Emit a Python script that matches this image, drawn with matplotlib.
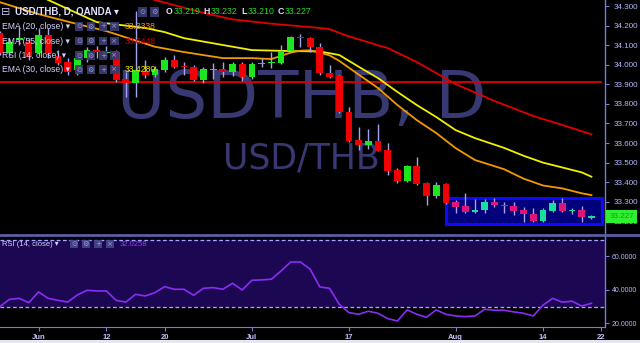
import numpy as np
import matplotlib
matplotlib.use('Agg')
import matplotlib.pyplot as plt
from matplotlib.patches import Rectangle

# ---------------- data ----------------
bar_idx = list(range(-4, 58))          # trading-day index, 0 = 1 Jun
opens = [34.162, 34.060, 34.126, 34.116, 34.060, 34.152, 34.045, 34.014, 33.973, 34.034,
         34.075, 34.060, 34.065, 33.927, 33.907, 33.963, 33.947, 33.973, 34.024, 33.993,
         33.988, 33.922, 33.973, 33.978, 33.963, 34.004, 33.937, 34.004, 34.009, 34.009,
         34.070, 34.142, 34.136, 34.090, 33.958, 33.942, 33.758, 33.615, 33.590, 33.610,
         33.564, 33.462, 33.406, 33.482, 33.396, 33.329, 33.390, 33.298, 33.278, 33.247,
         33.258, 33.298, 33.283, 33.278, 33.258, 33.237, 33.201, 33.252, 33.293, 33.252,
         33.258, 33.219]
highs = [34.172, 34.136, 34.193, 34.136, 34.188, 34.188, 34.075, 34.034, 34.065, 34.090,
         34.096, 34.096, 34.075, 33.963, 34.274, 34.024, 33.993, 34.039, 34.050, 34.014,
         33.999, 33.988, 34.009, 34.014, 34.014, 34.014, 34.014, 34.034, 34.065, 34.101,
         34.147, 34.157, 34.142, 34.111, 33.999, 33.947, 33.784, 33.682, 33.671, 33.697,
         33.600, 33.472, 33.488, 33.528, 33.401, 33.401, 33.396, 33.309, 33.344, 33.314,
         33.314, 33.319, 33.298, 33.298, 33.273, 33.268, 33.268, 33.309, 33.319, 33.268,
         33.278, 33.232]
lows = [34.050, 34.045, 34.101, 34.024, 34.045, 34.034, 33.999, 33.947, 33.947, 34.014,
        34.034, 34.034, 33.912, 33.835, 33.835, 33.932, 33.937, 33.963, 33.983, 33.947,
        33.917, 33.907, 33.927, 33.937, 33.942, 33.917, 33.927, 33.988, 33.983, 34.004,
        34.065, 34.090, 34.065, 33.947, 33.932, 33.753, 33.605, 33.564, 33.569, 33.559,
        33.436, 33.396, 33.401, 33.385, 33.283, 33.319, 33.288, 33.242, 33.242, 33.242,
        33.242, 33.273, 33.242, 33.232, 33.196, 33.196, 33.196, 33.247, 33.247, 33.237,
        33.196, 33.210]
closes = [34.060, 34.116, 34.136, 34.039, 34.152, 34.060, 34.009, 33.963, 34.034, 34.075,
          34.065, 34.065, 33.922, 33.907, 33.973, 33.947, 33.978, 34.024, 33.988, 33.988,
          33.922, 33.978, 33.978, 33.963, 34.004, 33.937, 34.004, 34.009, 34.014, 34.070,
          34.142, 34.136, 34.090, 33.958, 33.937, 33.758, 33.610, 33.590, 33.610, 33.559,
          33.457, 33.406, 33.482, 33.390, 33.329, 33.385, 33.293, 33.273, 33.247, 33.258,
          33.298, 33.283, 33.278, 33.252, 33.237, 33.201, 33.258, 33.293, 33.252, 33.258,
          33.222, 33.227]

ema20_idx = [-4, 0, 4, 7, 12, 15, 19, 22, 24, 26, 27, 28, 29, 30, 31, 33, 35, 37, 39, 41,
             43, 45, 48, 50, 52, 54, 56, 57]
ema20_val = [34.320, 34.259, 34.208, 34.172, 34.092, 34.065, 34.034, 34.034, 34.029, 34.062,
             34.072, 34.074, 34.062, 34.048, 34.020, 33.950, 33.881, 33.794, 33.717, 33.651,
             33.574, 33.513, 33.466, 33.418, 33.383, 33.368, 33.343, 33.3338]
ema30_idx = [-2, 1, 6, 11, 13, 15, 19, 22, 26, 29, 31, 33, 35, 37, 39, 41, 43, 45, 48, 50,
             52, 54, 56, 57]
ema30_val = [34.400, 34.331, 34.218, 34.188, 34.167, 34.136, 34.101, 34.075, 34.070, 34.068,
             34.050, 33.990, 33.932, 33.861, 33.794, 33.733, 33.666, 33.625, 33.575, 33.535,
             33.500, 33.475, 33.450, 33.4280]
ema55_idx = [8, 12, 17, 20, 24, 29, 30, 32, 36, 39, 43, 47, 51, 54, 57]
ema55_val = [34.400, 34.331, 34.265, 34.232, 34.210, 34.188, 34.182, 34.145, 34.085, 34.014,
             33.901, 33.815, 33.738, 33.692, 33.6448]

rsi_val = [30.0, 34.4, 35.0, 32.4, 38.8, 35.0, 33.8, 32.8, 37.0, 39.8,
           39.4, 39.4, 33.8, 32.8, 37.4, 36.4, 38.4, 42.0, 40.4, 40.4,
           36.8, 41.0, 41.4, 40.4, 44.0, 40.0, 45.8, 46.0, 46.4, 51.3,
           56.7, 56.7, 52.4, 41.8, 41.0, 31.5, 26.5, 25.5, 27.3, 26.1,
           22.9, 21.5, 28.1, 25.5, 23.7, 28.1, 25.5, 24.5, 24.1, 24.5,
           28.5, 27.9, 27.9, 26.9, 26.1, 24.5, 30.9, 35.0, 32.7, 33.3,
           30.4, 32.0258]

hline_price = 33.910
box_bars = (42.0, 58.1)
box_prices = (33.186, 33.320)

date_tick_idx = [0, 7, 13, 22, 32, 43, 52, 58]
date_tick_lbl = ['Jun', '12', '20', 'Jul', '17', 'Aug', '14', '22']
price_ticks = [33.2, 33.3, 33.4, 33.5, 33.6, 33.7, 33.8, 33.9, 34.0, 34.1, 34.2, 34.3]
rsi_ticks = [20, 40, 60]
last = dict(O=33.219, H=33.232, L=33.210, C=33.227)

# ---------------- figure ----------------
W, H = 640, 343
fig = plt.figure(figsize=(6.4, 3.43), dpi=100, facecolor='black')

def box(x0, y0, x1, y1):
    return [x0 / W, 1 - y1 / H, (x1 - x0) / W, (y1 - y0) / H]

LAV = '#b4b8ff'
AXC = '#7a7ad8'
NUMF = ['Liberation Sans', 'DejaVu Sans']

ax = fig.add_axes(box(0, 0, 605, 234))
axr = fig.add_axes(box(0, 236, 605, 327), sharex=ax)
for a in (ax, axr):
    a.set_facecolor('black')
    for s in ('left', 'top', 'bottom'):
        a.spines[s].set_visible(False)
    a.spines['right'].set_color(AXC)
    a.spines['right'].set_linewidth(1.0)
    a.yaxis.tick_right()
    a.tick_params(axis='y', colors=AXC, length=3, width=0.8, pad=3,
                  labelcolor=LAV, labelsize=5.8)

ax.set_xlim(-3.97, 58.4)
ax.set_ylim(33.135, 34.331)
axr.set_ylim(17.9, 72.2)

# watermark
ax.text(0.498, 1 - 118 / 234, 'USDTHB, D', transform=ax.transAxes, ha='center',
        va='baseline', fontsize=47.5, color='#383872', family='DejaVu Sans', zorder=0)
ax.text(0.498, 1 - 168 / 234, 'USD/THB', transform=ax.transAxes, ha='center',
        va='baseline', fontsize=25, color='#383872', family='DejaVu Sans', zorder=0)

# drawn horizontal line and rectangle
ax.axhline(hline_price, xmin=0, xmax=0.993, color='#e00000', lw=1.3, zorder=2)
ax.add_patch(Rectangle((box_bars[0], box_prices[0]), box_bars[1] - box_bars[0],
                       box_prices[1] - box_prices[0], facecolor='#00007a',
                       edgecolor='#0a0aff', lw=2.2, zorder=1))

# EMAs
ax.plot(ema55_idx, ema55_val, color='#e00000', lw=1.3, zorder=3)
ax.plot(ema30_idx, ema30_val, color='#f0f000', lw=1.3, zorder=3)
ax.plot(ema20_idx, ema20_val, color='#f09a00', lw=1.3, zorder=3)

# candles
o = np.array(opens); c = np.array(closes); hi = np.array(highs); lo = np.array(lows)
x = np.array(bar_idx)
up = c >= o
inbox = x >= 43
cols = np.where(up, np.where(inbox, '#18e09a', '#1ee61e'),
                np.where(inbox, '#e0157c', '#f00000'))
ax.vlines(x, lo, hi, color='#a4a4ee', lw=1.0, zorder=4)
bottoms = np.minimum(o, c)
heights = np.maximum(np.abs(c - o), 0.006)
ax.bar(x, heights, bottom=bottoms, width=0.7, color=cols, zorder=5, linewidth=0)

ax.set_yticks(price_ticks)
ax.set_yticklabels(['%.3f' % v for v in price_ticks], family=NUMF)
ax.tick_params(axis='x', bottom=False, labelbottom=False)

# RSI pane
axr.axhspan(30, 70, color='#1c0852', zorder=0, lw=0)
for lvl in (70, 30):
    axr.axhline(lvl, color='#a8a8ff', lw=0.9, ls=(0, (3, 2)), zorder=1)
axr.plot(x, rsi_val, color='#8a2cf4', lw=1.2, zorder=3)
axr.set_yticks(rsi_ticks)
axr.set_yticklabels(['%.4f' % v for v in rsi_ticks], family=NUMF)
axr.tick_params(axis='y', labelsize=5.0, pad=2)
axr.spines['bottom'].set_visible(True)
axr.spines['bottom'].set_color(AXC)
axr.set_xticks(date_tick_idx)
axr.set_xticklabels(date_tick_lbl, family=NUMF, fontweight='bold')
axr.tick_params(axis='x', colors=AXC, length=3, width=0.8, pad=2,
                labelcolor='#c4c4ff', labelsize=5.5)

# pane separator and bottom strip
fig.add_artist(plt.Line2D([0, 1], [1 - 235 / H, 1 - 235 / H], transform=fig.transFigure,
                          color='#5c5ca8', lw=2.0))
fig.patches.append(Rectangle((0, 0), 1, 3 / H, transform=fig.transFigure,
                             facecolor='#e6e6ee', edgecolor='none'))

# last price label
fig.patches.append(Rectangle((606 / W, 1 - 223 / H), 31 / W, 13 / H, transform=fig.transFigure,
                             facecolor='#2ef02e', edgecolor='none', zorder=6))
fig.text(621.5 / W, 1 - 216.5 / H, '%.3f' % closes[-1], ha='center', va='center',
         fontsize=5.8, color='#1c9a1c', family=NUMF, zorder=7)

# ---------------- legends ----------------
def T(xp, yp, s, size=6.2, color='#d0d0ff', **kw):
    fig.text(xp / W, 1 - yp / H, s, ha='left', va='center', fontsize=size, color=color,
             zorder=8, **kw)

def icon(xc, yc, sym, fc='#3a3a70', tc='#9c9cd4', sz=8.5):
    fig.patches.append(Rectangle(((xc - sz / 2) / W, 1 - (yc + sz / 2) / H), sz / W, sz / H,
                                 transform=fig.transFigure, facecolor=fc,
                                 edgecolor='none', zorder=7, alpha=0.92))
    fig.text(xc / W, 1 - yc / H, sym, ha='center', va='center', fontsize=5.2,
             color=tc, family='DejaVu Sans', zorder=8)

T(1, 12, '\u229f', size=8, color='#c0c0f0', family='DejaVu Sans')
T(15, 12, 'USD/THB, D, OANDA \u25be', size=7.0, color='#e0e0ff', family=NUMF,
  fontweight='bold')
icon(142.5, 12, '\u2299', sz=9.5)
icon(154.5, 12, '\u2699', sz=9.5)
xs = {'O': (166, 174), 'H': (203, 211), 'L': (241, 248), 'C': (278, 285)}
for k, (xl, xv) in xs.items():
    T(xl, 12, k, size=6.3, color='#e0e0ff', family=NUMF, fontweight='bold')
    T(xv, 12, '%.3f' % last[k], size=6.3, color='#22dd22', family=NUMF)

rows = [('EMA (20, close) \u25be', 26.5, '33.3338', '#f09a00'),
        ('EMA (55, close) \u25be', 41.0, '33.6448', '#c00000'),
        ('RSI (14, close) \u25be', 55.5, None, None),
        ('EMA (30, close) \u25be', 69.5, '33.4280', '#f0f000')]
for lbl, yr, val, vc in rows:
    T(2, yr, lbl, family=NUMF)
    for xc, sym in zip((79, 91, 103, 114.5), ('\u2299', '\u2699', '+', '\u00d7')):
        icon(xc, yr, sym)
    if val:
        T(125, yr, val, color=vc, family=NUMF)

T(2, 244, 'RSI (14, close) \u25be', size=5.5, family=NUMF)
for xc, sym in zip((74, 86, 98, 110), ('\u2299', '\u2699', '+', '\u00d7')):
    icon(xc, 244, sym, fc='#46468a', sz=7.5)
T(120, 244, '32.0258', size=5.5, color='#9a3cff', family=NUMF)

fig.savefig('out.png', dpi=100, facecolor='black')
